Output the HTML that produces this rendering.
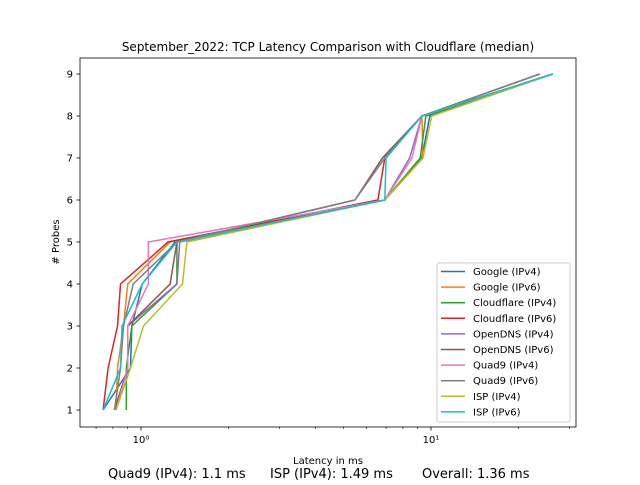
<!DOCTYPE html>
<html><head><meta charset="utf-8"><style>
body{margin:0;background:#fff}
svg text{font-family:"DejaVu Sans","Liberation Sans",sans-serif;fill:#000}
</style></head><body>
<svg id="chart" width="640" height="480" xmlns="http://www.w3.org/2000/svg">
<rect width="640" height="480" fill="#fff"/>
<text x="328" y="51" font-size="12" text-anchor="middle">September_2022: TCP Latency Comparison with Cloudflare (median)</text>
<g id="plot"></g>
<g id="axes"></g>
<text x="328" y="464" font-size="10" text-anchor="middle">Latency in ms</text>
<text x="59" y="242" font-size="10" text-anchor="middle" transform="rotate(-90 59 242)"># Probes</text>
<text x="108" y="478" font-size="13">Quad9 (IPv4): 1.1 ms</text>
<text x="270" y="478" font-size="13">ISP (IPv4): 1.49 ms</text>
<text x="422" y="478" font-size="13">Overall: 1.36 ms</text>
<g id="legend"></g>
</svg>
<script>
const probes=[1,2,3,4,5,6,7,8,9];
const seriesNames=["Google (IPv4)","Google (IPv6)","Cloudflare (IPv4)","Cloudflare (IPv6)","OpenDNS (IPv4)","OpenDNS (IPv6)","Quad9 (IPv4)","Quad9 (IPv6)","ISP (IPv4)","ISP (IPv6)"];
const googleV4=[0.74,0.92,0.93,1.01,1.31,6.93,9.3,9.9,26.3];
const googleV6=[0.82,0.83,0.87,0.90,1.26,6.93,9.38,9.3,26.3];
const cloudflareV4=[0.89,0.89,0.93,1.33,1.33,6.93,9.18,9.6,26.3];
const cloudflareV6=[0.74,0.77,0.83,0.85,1.24,6.56,6.93,9.3,26.3];
const opendnsV4=[0.82,0.90,0.90,1.33,1.36,6.93,8.44,9.3,26.3];
const opendnsV6=[0.81,0.90,0.90,1.26,1.33,5.47,6.8,9.3,23.7];
const quad9V4=[0.82,0.90,0.90,1.06,1.06,6.93,8.6,9.3,26.3];
const quad9V6=[0.81,0.85,0.87,0.94,1.33,5.47,6.93,9.3,23.7];
const ispV4=[0.82,0.92,1.02,1.39,1.44,6.93,9.38,10.06,26.3];
const ispV6=[0.74,0.85,0.86,1.01,1.33,6.93,7.0,9.3,26.3];
const yTicks=[1,2,3,4,5,6,7,8,9];
const xMajor=[1,10];
const xMajorLabels=["10\u2070","10\u00b9"];
const allSeries=[googleV4,googleV6,cloudflareV4,cloudflareV6,opendnsV4,opendnsV6,quad9V4,quad9V6,ispV4,ispV6];
const colors=["#1f77b4","#ff7f0e","#2ca02c","#d62728","#9467bd","#8c564b","#e377c2","#7f7f7f","#bcbd22","#17becf"];
const NS="http://www.w3.org/2000/svg";
const L=80,R=576,T=58,B=427;
const X=v=>141+290*Math.log10(v);
const Y=v=>410-(v-1)*42;
function mk(tag,attrs,parent){const e=document.createElementNS(NS,tag);for(const k in attrs)e.setAttribute(k,attrs[k]);parent.appendChild(e);return e;}
const plot=document.getElementById('plot'),axes=document.getElementById('axes'),legend=document.getElementById('legend');
allSeries.forEach((s,i)=>{
  const p=mk('polyline',{points:s.map((v,j)=>X(v)+','+Y(probes[j])).join(' '),fill:'none',stroke:colors[i],'stroke-width':1.5},plot);
  
  
});
const frame=mk('rect',{x:L,y:T,width:R-L,height:B-T,fill:'none',stroke:'#000','stroke-width':0.8},axes);


yTicks.forEach(t=>{
  mk('line',{x1:L-3.5,x2:L,y1:Y(t),y2:Y(t),stroke:'#000','stroke-width':0.8},axes);
  const tx=mk('text',{x:L-7,y:Y(t)+3.5,'font-size':10,'text-anchor':'end'},axes);
  tx.textContent=t;
  
  
});
xMajor.forEach((t,i)=>{
  mk('line',{x1:X(t),x2:X(t),y1:B,y2:B+3.5,stroke:'#000','stroke-width':0.8},axes);
  const tx=mk('text',{x:X(t),y:B+16,'font-size':10,'text-anchor':'middle'},axes);
  tx.textContent=xMajorLabels[i];
  
  
});
for(let d=0.1;d<100;d*=10){for(let m=2;m<10;m++){const v=d*m,x=X(v);if(x>L&&x<R)mk('line',{x1:x,x2:x,y1:B,y2:B+2,stroke:'#000','stroke-width':0.6},axes);}}
const box=mk('rect',{x:437,y:263,width:133,height:159,rx:2,fill:'#fff','fill-opacity':0.8,stroke:'#ccc','stroke-width':1},legend);


seriesNames.forEach((n,i)=>{
  const y=271.5+i*15.6;
  const g=mk('g',{},legend);
  
  
  mk('line',{x1:441,x2:465,y1:y,y2:y,stroke:colors[i],'stroke-width':1.5},g);
  const t=mk('text',{x:473,y:y+3.5,'font-size':10},g);
  t.textContent=n;
});
</script>
</body></html>
